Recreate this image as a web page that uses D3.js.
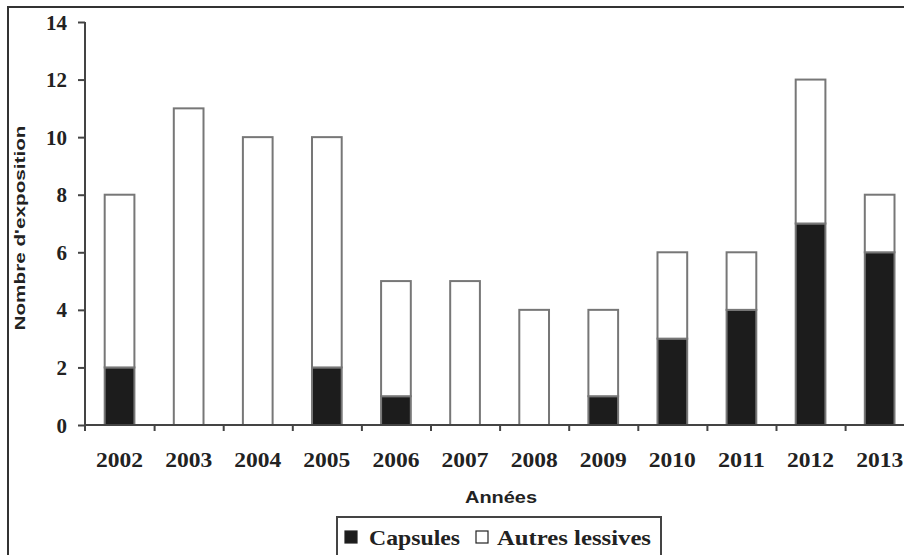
<!DOCTYPE html>
<html>
<head>
<meta charset="utf-8">
<script src="https://cdn.jsdelivr.net/npm/d3@7"></script>
<style>
	body { margin: 0; background: #fff; }
	svg { display: block; }
</style>
</head>
<body>
<div id="chart"></div>
<script>
// data
const years = ["2002", "2003", "2004", "2005", "2006", "2007", "2008", "2009", "2010", "2011", "2012", "2013"];
const capsules = [2, 0, 0, 2, 1, 0, 0, 1, 3, 4, 7, 6];
const autres = [6, 11, 10, 8, 4, 5, 4, 3, 3, 2, 5, 2];
const y_ticks = [0, 2, 4, 6, 8, 10, 12, 14];
const series_names = ["Capsules", "Autres lessives"];

const width = 904;
const height = 555;
const margin = { top: 22, left: 85, bottom: 130 };
const band = 69.1; // width of one year slot in pixels
const plot_right = margin.left + band * years.length; // goes past the page, as in the figure

const svg = d3
	.select("#chart")
	.append("svg")
	.attr("width", width)
	.attr("height", height);

// outer frame (only left and top edges are visible)
svg.append("path")
	.attr("d", `M8,${height} L8,7 L${width},7`)
	.attr("fill", "none")
	.attr("stroke", "#333")
	.attr("stroke-width", 2);

const y = d3.scaleLinear().domain([0, 14]).range([425, margin.top]);

const x = d3
	.scaleBand()
	.domain(years)
	.range([margin.left, plot_right])
	.paddingInner(0);

const x_idx = d3.scaleLinear().domain([0, years.length]).range([margin.left, plot_right]);

const table = years.map((yr, i) => ({ year: yr, Capsules: capsules[i], "Autres lessives": autres[i] }));
const stacked = d3.stack().keys(series_names)(table);
const fills = { Capsules: "#1c1c1c", "Autres lessives": "#ffffff" };

const bar_w = x.bandwidth() * 0.43;

// bars
svg.append("g")
	.selectAll("g")
	.data(stacked)
	.join("g")
	.attr("fill", (d) => fills[d.key])
	.selectAll("rect")
	.data((d) => d.filter((p) => p[1] - p[0] > 0))
	.join("rect")
	.attr("x", (d) => x(d.data.year) + (x.bandwidth() - bar_w) / 2)
	.attr("y", (d) => y(d[1]))
	.attr("width", bar_w)
	.attr("height", (d) => y(d[0]) - y(d[1]))
	.attr("stroke", "#777")
	.attr("stroke-width", 2);

// y axis
const yAxis = svg
	.append("g")
	.attr("transform", `translate(${margin.left},0)`)
	.call(d3.axisLeft(y).tickValues(y_ticks).tickSize(7).tickPadding(11));
yAxis.select(".domain").attr("d", `M0,${y(14)}V431`);
yAxis.selectAll("line").attr("stroke", "#444").attr("stroke-width", 2);
yAxis.select(".domain").attr("stroke", "#444").attr("stroke-width", 2);
yAxis.selectAll("text")
	.attr("font-family", "'Liberation Serif', 'Times New Roman', serif")
	.attr("font-weight", "bold")
	.attr("font-size", 21)
	.attr("fill", "#222")
	.attr("dy", "0.34em");

// x axis: ticks between the years
const xTicks = svg
	.append("g")
	.attr("transform", `translate(0,425)`)
	.call(d3.axisBottom(x_idx).tickValues(d3.range(1, years.length)).tickSize(6).tickFormat(""));
xTicks.select(".domain").attr("d", `M${margin.left},0H${plot_right}`);
xTicks.selectAll("line").attr("stroke", "#444").attr("stroke-width", 2);
xTicks.select(".domain").attr("stroke", "#444").attr("stroke-width", 2);

// year labels
const xLabels = svg
	.append("g")
	.attr("transform", `translate(0,425)`)
	.call(d3.axisBottom(x).tickSize(0).tickPadding(42));
xLabels.select(".domain").remove();
xLabels.selectAll("text")
	.attr("font-family", "'Liberation Serif', 'Times New Roman', serif")
	.attr("font-weight", "bold")
	.attr("font-size", 22)
	.attr("fill", "#222")
	.attr("dy", "0em")
	.attr("textLength", 47)
	.attr("lengthAdjust", "spacingAndGlyphs");

// axis titles
svg.append("text")
	.attr("x", 501)
	.attr("y", 503)
	.attr("text-anchor", "middle")
	.attr("font-family", "'Liberation Sans', Arial, sans-serif")
	.attr("font-weight", "bold")
	.attr("font-size", 16)
	.attr("fill", "#222")
	.attr("textLength", 72)
	.attr("lengthAdjust", "spacingAndGlyphs")
	.text("Années");

svg.append("text")
	.attr("transform", "translate(25,228) rotate(-90)")
	.attr("text-anchor", "middle")
	.attr("font-family", "'Liberation Sans', Arial, sans-serif")
	.attr("font-weight", "bold")
	.attr("font-size", 15)
	.attr("fill", "#222")
	.attr("textLength", 205)
	.attr("lengthAdjust", "spacingAndGlyphs")
	.text("Nombre d'exposition");

// legend
const legend = svg.append("g");
legend.append("rect")
	.attr("x", 337)
	.attr("y", 517)
	.attr("width", 324)
	.attr("height", 45)
	.attr("fill", "#fff")
	.attr("stroke", "#444")
	.attr("stroke-width", 2);

const legend_items = [
	{ name: series_names[0], box_x: 345, text_x: 369, text_w: 91 },
	{ name: series_names[1], box_x: 476, text_x: 497, text_w: 154 },
];
legend.selectAll(".sw")
	.data(legend_items)
	.join("rect")
	.attr("class", "sw")
	.attr("x", (d) => d.box_x)
	.attr("y", 531)
	.attr("width", 12)
	.attr("height", 12)
	.attr("fill", (d) => fills[d.name])
	.attr("stroke", "#222")
	.attr("stroke-width", 1.2);
legend.selectAll(".lt")
	.data(legend_items)
	.join("text")
	.attr("class", "lt")
	.attr("x", (d) => d.text_x)
	.attr("y", 545)
	.attr("font-family", "'Liberation Serif', 'Times New Roman', serif")
	.attr("font-weight", "bold")
	.attr("font-size", 22)
	.attr("fill", "#222")
	.attr("textLength", (d) => d.text_w)
	.attr("lengthAdjust", "spacingAndGlyphs")
	.text((d) => d.name);
</script>
</body>
</html>
